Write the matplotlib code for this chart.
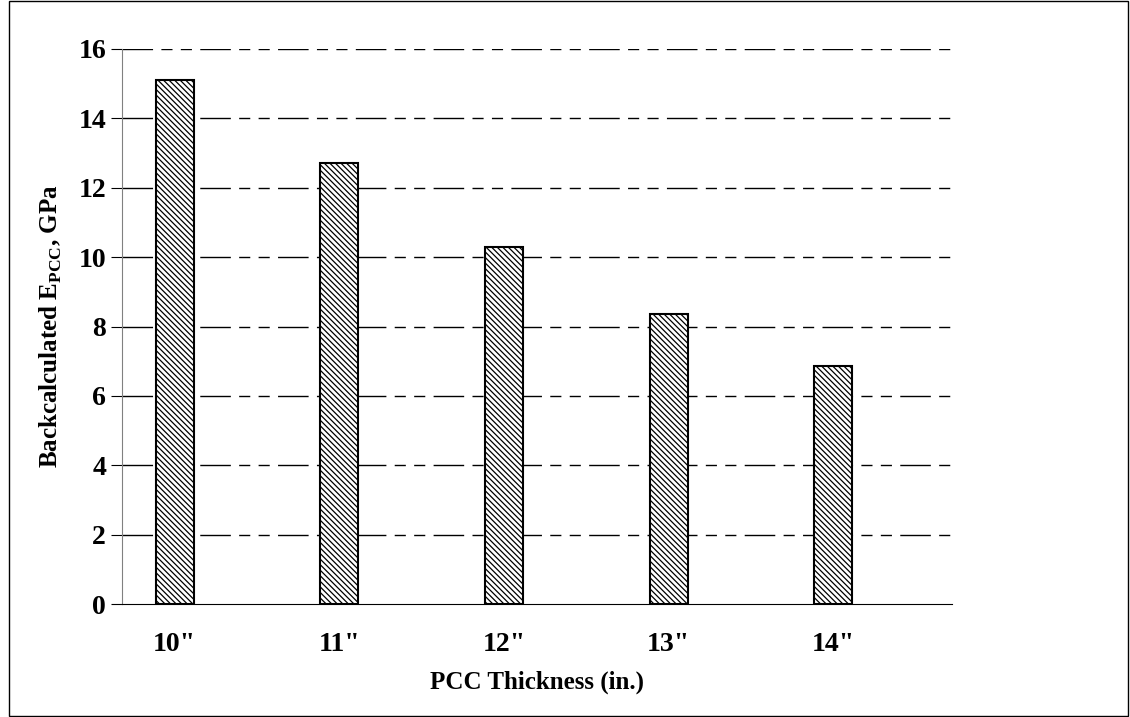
import matplotlib.pyplot as plt
from matplotlib.patches import Rectangle

plt.rcParams['font.family'] = 'Liberation Serif'
plt.rcParams['mathtext.fontset'] = 'custom'
plt.rcParams['mathtext.bf'] = 'Liberation Serif:bold'
plt.rcParams['hatch.linewidth'] = 0.9

labels = ['10"', '11"', '12"', '13"', '14"']
values = [15.1, 12.7, 10.3, 8.35, 6.85]

fig = plt.figure(figsize=(11.3, 7.17), dpi=100)
ax = fig.add_axes([122/1130, 1 - 604/717, 830/1130, 555/717])
fig.patches.append(Rectangle((9/1130, 0.002), 1 - 9/1130 - 0.002, 0.996,
                             transform=fig.transFigure, fill=False,
                             edgecolor='black', linewidth=1))

x = range(len(labels))
for y in range(2, 17, 2):
    ax.axhline(y, color='black', linewidth=1, dashes=(22, 6, 8, 6, 8, 6), zorder=0)
ax.bar(x, values, width=0.23, color='white', edgecolor='black', linewidth=1.5,
       hatch='\\\\\\\\\\\\', zorder=2)

ax.set_xlim(-0.32, 4.72)
ax.set_ylim(0, 16)
ax.set_yticks(range(0, 17, 2))
ax.set_xticks(list(x))
ax.set_xticklabels(labels)
for s in ['top', 'right']:
    ax.spines[s].set_visible(False)
ax.spines['left'].set_color('gray')
ax.spines['bottom'].set_color('black')
ax.tick_params(axis='x', length=0, pad=20)
ax.tick_params(axis='y', direction='out', length=8, color='black')
for t in ax.get_xticklabels() + ax.get_yticklabels():
    t.set_fontsize(20)
    t.set_fontweight('bold')
ax.set_xlabel('PCC Thickness (in.)', fontsize=18, fontweight='bold', labelpad=10)
ax.set_ylabel('Backcalculated E$_{\\mathbf{PCC}}$, GPa', fontsize=18,
              fontweight='bold', labelpad=10)
fig.savefig('out.png', dpi=100)
